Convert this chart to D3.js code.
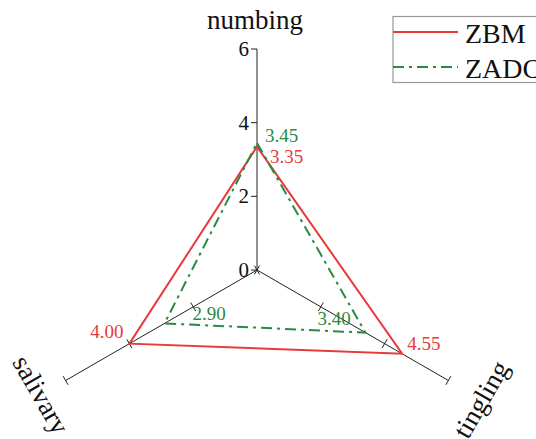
<!DOCTYPE html>
<html>
<head>
<meta charset="utf-8">
<script src="https://cdn.jsdelivr.net/npm/d3@7"></script>
<style>
  html, body { margin: 0; padding: 0; background: #fff; }
  svg { display: block; font-family: "Liberation Serif", "DejaVu Serif", serif; }
</style>
</head>
<body>
<svg id="chart" width="536" height="439"></svg>
<script>
// ---- data ----
const axes = ["numbing", "tingling", "salivary"];
const seriesNames = ["ZBM", "ZADC"];
const zbmValues = [3.35, 4.55, 4.00];
const zadcValues = [3.45, 3.40, 2.90];
const tickValues = [0, 2, 4, 6];
const tickLabels = ["0", "2", "4", "6"];
const valueLabels = [["3.35", "4.55", "4.00"], ["3.45", "3.40", "2.90"]];

// ---- layout / style ----
const cx = 257, cy = 270;
const r = d3.scaleLinear().domain([0, 6]).range([0, 221]);
const angles = [-90, 30, 150].map(a => a * Math.PI / 180);
const colors = ["#e8393b", "#2a8a43"];
const dashes = [null, "11,5,3,5"];
// label offsets (px) relative to data points, per series per axis
const labelOffsets = [
  [[13, 16, "start"], [5, -4, "start"], [-6, -6, "end"]],
  [[8, -1, "start"], [-48, -8, "start"], [28, -3, "start"]]
];
const axisLabelR = [null, 7.05, 6.8];

const svg = d3.select("#chart");
const g = svg.append("g");

function pt(i, v) {
  return [cx + r(v) * Math.cos(angles[i]), cy + r(v) * Math.sin(angles[i])];
}

// axes
axes.forEach((name, i) => {
  const [x2, y2] = pt(i, 6);
  g.append("line").attr("x1", cx).attr("y1", cy).attr("x2", x2).attr("y2", y2)
    .attr("stroke", "#222").attr("stroke-width", 1);
  const a = angles[i];
  const px = -Math.sin(a), py = Math.cos(a); // perpendicular
  tickValues.forEach((t, k) => {
    const [tx, ty] = pt(i, t);
    if (i === 0) {
      g.append("line").attr("x1", tx - 6).attr("y1", ty).attr("x2", tx).attr("y2", ty)
        .attr("stroke", "#222").attr("stroke-width", 1);
      g.append("text").attr("x", tx - 8).attr("y", ty + 7)
        .attr("text-anchor", "end").attr("font-size", 21).attr("fill", "#111")
        .text(tickLabels[k]);
    } else {
      g.append("line").attr("x1", tx - px * 5).attr("y1", ty - py * 5)
        .attr("x2", tx + px * 5).attr("y2", ty + py * 5)
        .attr("stroke", "#222").attr("stroke-width", 1);
    }
  });
});

// axis labels
g.append("text").attr("x", 255).attr("y", 29).attr("text-anchor", "middle")
  .attr("font-size", 27).attr("fill", "#111").text(axes[0]);
[1, 2].forEach(i => {
  const [lx, ly] = pt(i, axisLabelR[i]);
  const rot = i === 1 ? -60 : 60;
  g.append("text").attr("transform", `translate(${lx},${ly}) rotate(${rot})`)
    .attr("text-anchor", "middle").attr("dy", "0.3em")
    .attr("font-size", 27).attr("fill", "#111").text(axes[i]);
});

// series polygons
const allSeries = [zbmValues, zadcValues];
const line = d3.line().curve(d3.curveLinearClosed);
allSeries.forEach((vals, s) => {
  const pts = vals.map((v, i) => pt(i, v));
  g.append("path").attr("d", line(pts)).attr("fill", "none")
    .attr("stroke", colors[s]).attr("stroke-width", 2)
    .attr("stroke-dasharray", dashes[s]);
});

// value labels
allSeries.forEach((vals, s) => {
  vals.forEach((v, i) => {
    const [x, y] = pt(i, v);
    const o = labelOffsets[s][i];
    g.append("text").attr("x", x + o[0]).attr("y", y + o[1])
      .attr("text-anchor", o[2]).attr("font-size", 19).attr("fill", colors[s])
      .text(valueLabels[s][i]);
  });
});

// legend
const lg = svg.append("g");
lg.append("rect").attr("x", 393).attr("y", 16.5).attr("width", 160).attr("height", 66)
  .attr("fill", "#fff").attr("stroke", "#999").attr("stroke-width", 1.2);
seriesNames.forEach((n, s) => {
  const y = 32 + s * 35;
  lg.append("line").attr("x1", 393).attr("x2", 458).attr("y1", y).attr("y2", y)
    .attr("stroke", colors[s]).attr("stroke-width", 2).attr("stroke-dasharray", dashes[s]);
  lg.append("text").attr("x", 465).attr("y", y + 11).attr("font-size", 28)
    .attr("fill", "#111").text(n);
});
</script>
</body>
</html>
